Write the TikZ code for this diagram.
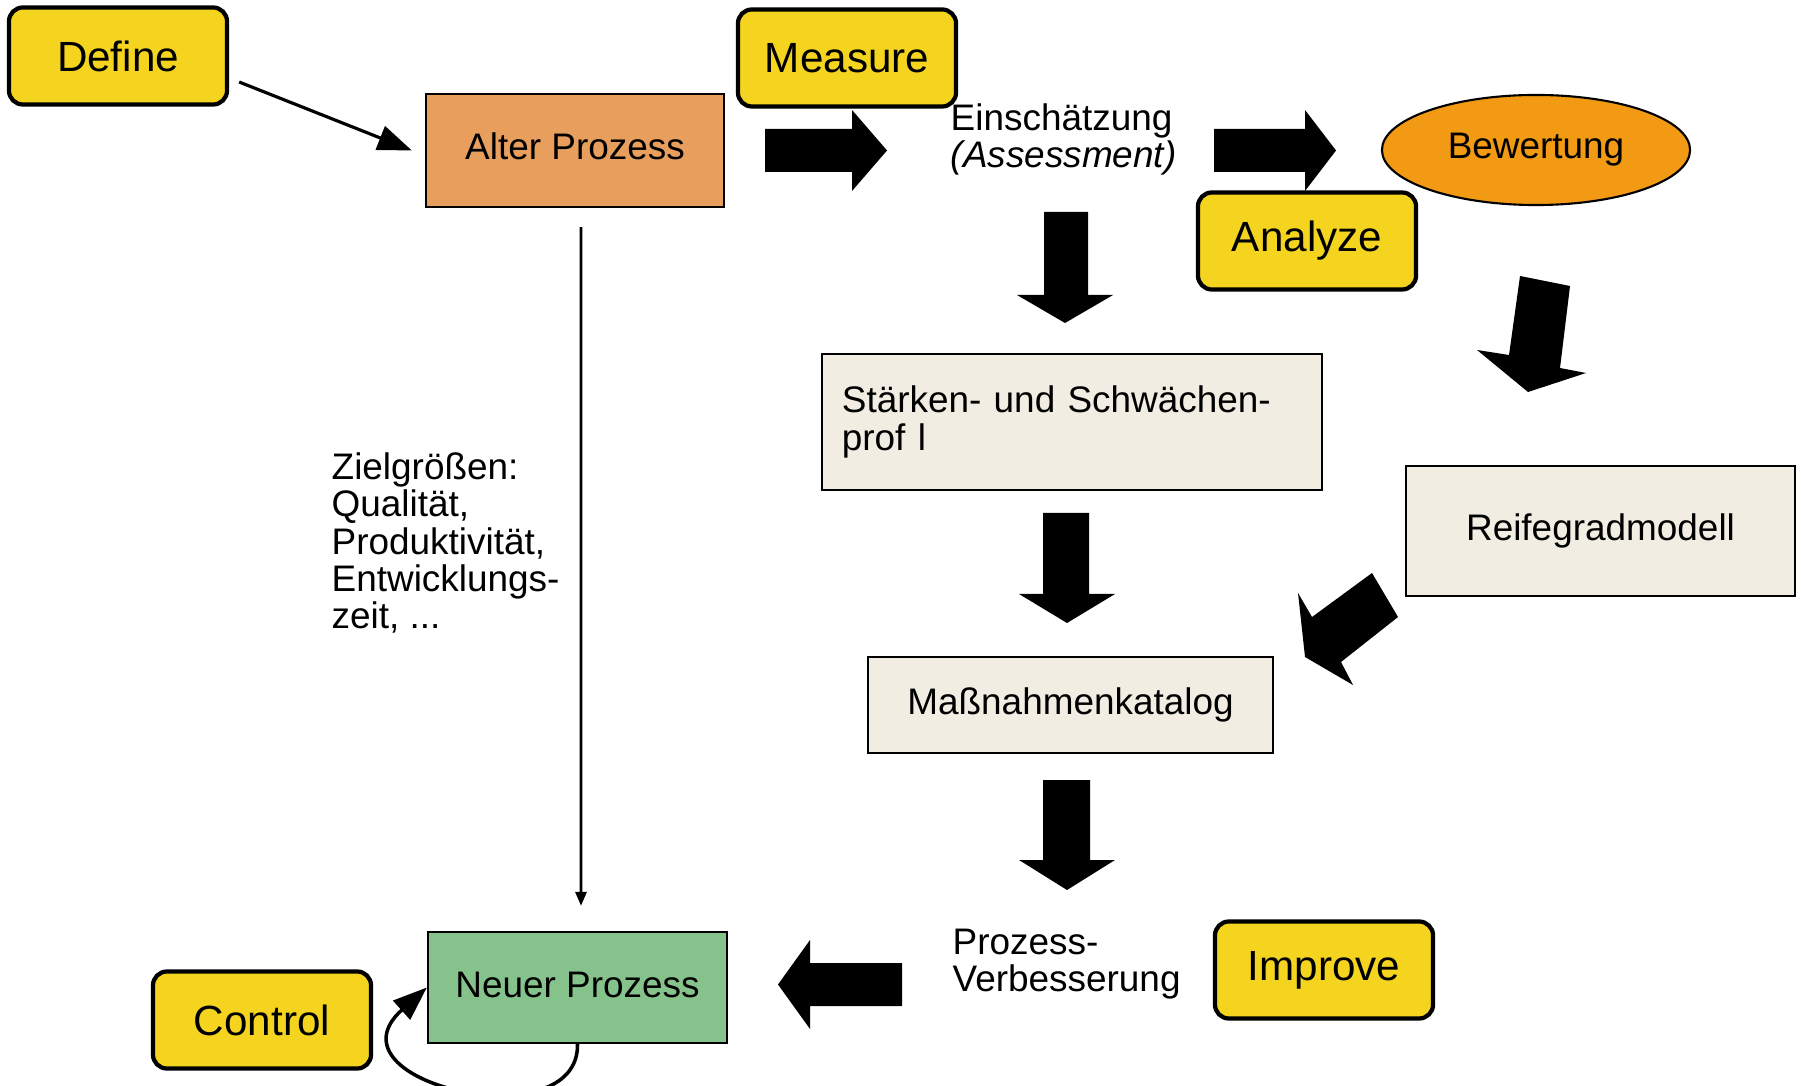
\documentclass[tikz,border=0pt]{standalone}
\usepackage{fontspec}
\setmainfont{Liberation Sans}
\usetikzlibrary{arrows.meta,shapes}
\definecolor{dmaicyellow}{HTML}{F5D41F}
\definecolor{oldorange}{HTML}{E89E5D}
\definecolor{evalorange}{HTML}{F39A14}
\definecolor{newgreen}{HTML}{86C28B}
\definecolor{paleboxfill}{HTML}{F1EDE3}

\begin{document}
\begin{tikzpicture}[x=0.01cm, y=-0.01cm,
		dmaic/.style={rectangle,draw,line width=1.2pt,rounded corners=0.14cm,fill=dmaicyellow,minimum width=2.18cm,minimum height=0.97cm,font=\fontsize{12}{14}\selectfont},
		procbox/.style={rectangle,draw,line width=0.6pt,font=\fontsize{10.5}{10.6}\selectfont},
		onerow/.style={text height=0.75em,text depth=0.21em},
		plaintext/.style={inner sep=0pt,align=left,anchor=west,font=\fontsize{10.5}{10.6}\selectfont},
		blockarrow/.style={fill=black},
		thinarrow/.style={-{Triangle[length=0.34cm,width=0.25cm]},line width=0.9pt}]
		\useasboundingbox (0,0) rectangle (1801,1086);
		% process boxes
		\node[procbox,onerow,fill=oldorange,minimum width=2.98cm,minimum height=1.13cm] (alt) at (575,150.5) {Alter Prozess};
		\node[ellipse,draw,line width=0.6pt,fill=evalorange,minimum width=3.08cm,minimum height=1.10cm,font=\fontsize{10.5}{10.6}\selectfont] (bew) at (1536,150) {Bewertung};
		\node[procbox,fill=paleboxfill,minimum width=5.00cm,minimum height=1.36cm,text width=4.6cm,align=left,inner sep=0.2cm] (staerken) at (1072,422) {Stärken- und Schwächen-\\prof l};
		\node[procbox,onerow,fill=paleboxfill,minimum width=3.89cm,minimum height=1.30cm] (reife) at (1600.5,531) {Reifegradmodell};
		\node[procbox,onerow,fill=paleboxfill,minimum width=4.05cm,minimum height=0.96cm] (mass) at (1070.5,705) {Maßnahmenkatalog};
		\node[procbox,onerow,fill=newgreen,minimum width=2.99cm,minimum height=1.11cm] (neu) at (577.5,987.5) {Neuer Prozess};
		\node[plaintext] (einsch) at (950,139.5) {Einschätzung\\\textit{(Assessment)}};
		\node[plaintext] (verb) at (952,964) {Prozess-\\Verbesserung};
		\node[plaintext] (ziel) at (331,543) {Zielgrößen:\\Qualität,\\Produktivität,\\Entwicklungs-\\zeit, ...};
		% block arrows
		\fill[blockarrow] (765,129) -- (852,129) -- (852,110) -- (887,150.5) -- (852,191) -- (852,172) -- (765,172) -- cycle;
		\fill[blockarrow] (1214,129) -- (1305,129) -- (1305,110) -- (1336,150.5) -- (1305,191) -- (1305,172) -- (1214,172) -- cycle;
		\fill[blockarrow] (1044,212) -- (1088,212) -- (1088,295) -- (1113,295) -- (1065,323) -- (1017,295) -- (1044,295) -- cycle;
		\fill[blockarrow] (1043,513) -- (1089,513) -- (1089,594) -- (1115,594) -- (1067,623) -- (1019,594) -- (1043,594) -- cycle;
		\fill[blockarrow] (1043,780) -- (1090,780) -- (1090,860) -- (1115,860) -- (1067,890) -- (1019,860) -- (1043,860) -- cycle;
		\fill[blockarrow] (902,963) -- (810,963) -- (810,940) -- (778,984.5) -- (810,1029) -- (810,1006) -- (902,1006) -- cycle;
		\fill[blockarrow] (1520,276) -- (1570,286) -- (1560,368) -- (1586,373) -- (1528,392) -- (1477,350) -- (1509,355) -- cycle;
		\fill[blockarrow] (1372,573) -- (1398,617) -- (1341,662) -- (1353,685) -- (1305,657) -- (1298,593) -- (1312,617) -- cycle;
		% DMAIC labels
		\node[dmaic] (define) at (118,56) {Define};
		\node[dmaic] (measure) at (847,58) {Measure};
		\node[dmaic] (analyze) at (1307,241) {Analyze};
		\node[dmaic] (improve) at (1324,970) {Improve};
		\node[dmaic] (control) at (262,1020) {Control};
		% thin arrows
		\draw[thinarrow] ([xshift=0.1cm,yshift=-0.26cm]define.east) -- ([xshift=-0.13cm]alt.west);
		\draw[-{Triangle[length=0.14cm,width=0.11cm]},line width=0.8pt] ([xshift=0.06cm,yshift=-0.19cm]alt.south) -- ([xshift=0.035cm,yshift=0.25cm]neu.north);
		\draw[thinarrow,line width=1pt] (neu.south) .. controls +(2,97) and +(-107,96) .. (neu.west);
\end{tikzpicture}
\end{document}
